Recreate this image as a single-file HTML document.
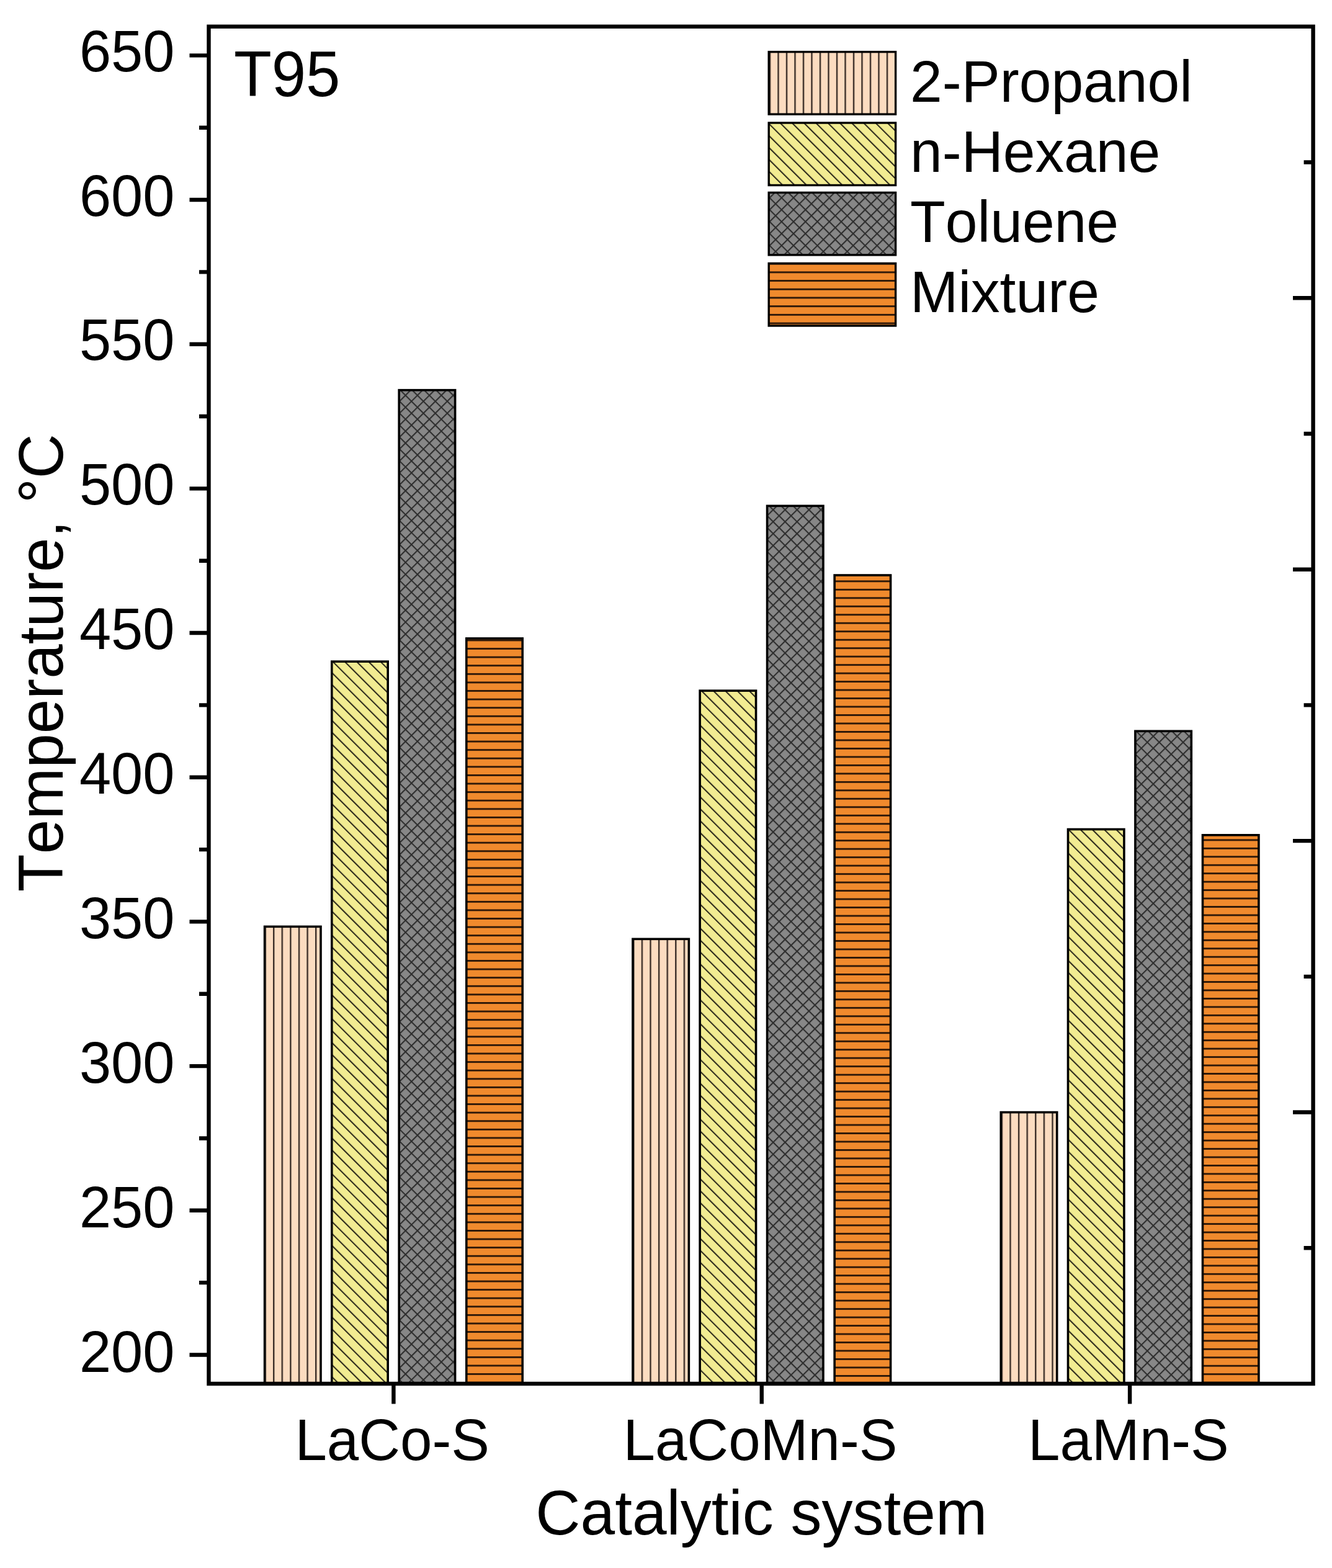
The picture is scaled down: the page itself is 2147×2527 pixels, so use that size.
<!DOCTYPE html>
<html><head><meta charset="utf-8"><title>T95 bar chart</title>
<style>html,body{margin:0;padding:0;background:#fff;overflow:hidden;width:2147px;height:2527px;}svg{display:block;}text{font-family:"Liberation Sans",Arial,sans-serif;fill:#000;font-kerning:none;}</style>
</head><body>
<svg width="2147" height="2527" viewBox="0 0 2147 2527">
<rect x="0" y="0" width="2147" height="2527" fill="#ffffff"/>
<defs>
<pattern id="pProp0" patternUnits="userSpaceOnUse" x="440.00" y="0" width="13.6" height="20"><rect width="13.6" height="20" fill="#fcdcc0"/><rect x="0" y="0" width="2.4" height="20" fill="#3a2d26"/></pattern>
<pattern id="pProp1" patternUnits="userSpaceOnUse" x="1033.70" y="0" width="13.6" height="20"><rect width="13.6" height="20" fill="#fcdcc0"/><rect x="0" y="0" width="2.4" height="20" fill="#3a2d26"/></pattern>
<pattern id="pProp2" patternUnits="userSpaceOnUse" x="1627.30" y="0" width="13.6" height="20"><rect width="13.6" height="20" fill="#fcdcc0"/><rect x="0" y="0" width="2.4" height="20" fill="#3a2d26"/></pattern>
<pattern id="pHex0" patternUnits="userSpaceOnUse" x="5.07" y="0" width="13.6" height="20" patternTransform="rotate(-45)"><rect width="13.6" height="20" fill="#f2ec92"/><rect x="0" y="0" width="2.10" height="20" fill="#2e2b1c"/></pattern>
<pattern id="pHex1" patternUnits="userSpaceOnUse" x="11.22" y="0" width="13.6" height="20" patternTransform="rotate(-45)"><rect width="13.6" height="20" fill="#f2ec92"/><rect x="0" y="0" width="2.10" height="20" fill="#2e2b1c"/></pattern>
<pattern id="pHex2" patternUnits="userSpaceOnUse" x="-0.56" y="0" width="13.6" height="20" patternTransform="rotate(-45)"><rect width="13.6" height="20" fill="#f2ec92"/><rect x="0" y="0" width="2.10" height="20" fill="#2e2b1c"/></pattern>
<pattern id="pTol0" patternUnits="userSpaceOnUse" x="0.46" y="0.92" width="13.6" height="13.6" patternTransform="rotate(45)"><rect width="13.6" height="13.6" fill="#878787"/><rect x="0" y="0" width="2.10" height="13.6" fill="#2e2e2e"/><rect x="0" y="0" width="13.6" height="2.10" fill="#2e2e2e"/></pattern>
<pattern id="pTol1" patternUnits="userSpaceOnUse" x="5.90" y="11.51" width="13.6" height="13.6" patternTransform="rotate(45)"><rect width="13.6" height="13.6" fill="#878787"/><rect x="0" y="0" width="2.10" height="13.6" fill="#2e2e2e"/><rect x="0" y="0" width="13.6" height="2.10" fill="#2e2e2e"/></pattern>
<pattern id="pTol2" patternUnits="userSpaceOnUse" x="3.69" y="-0.39" width="13.6" height="13.6" patternTransform="rotate(45)"><rect width="13.6" height="13.6" fill="#878787"/><rect x="0" y="0" width="2.10" height="13.6" fill="#2e2e2e"/><rect x="0" y="0" width="13.6" height="2.10" fill="#2e2e2e"/></pattern>
<pattern id="pMix0" patternUnits="userSpaceOnUse" x="0" y="1805.30" width="20" height="13.593"><rect width="20" height="13.593" fill="#f08a2d"/><rect x="0" y="0" width="20" height="2.8" fill="#2a1608"/></pattern>
<pattern id="pMix1" patternUnits="userSpaceOnUse" x="0" y="1811.60" width="20" height="13.48"><rect width="20" height="13.48" fill="#f08a2d"/><rect x="0" y="0" width="20" height="2.8" fill="#2a1608"/></pattern>
<pattern id="pMix2" patternUnits="userSpaceOnUse" x="0" y="1823.20" width="20" height="13.45"><rect width="20" height="13.45" fill="#f08a2d"/><rect x="0" y="0" width="20" height="2.8" fill="#2a1608"/></pattern>
<pattern id="lProp" patternUnits="userSpaceOnUse" x="1253.30" y="0" width="13.5" height="20"><rect width="13.5" height="20" fill="#fcdcc0"/><rect x="0" y="0" width="2.4" height="20" fill="#3a2d26"/></pattern>
<pattern id="lHex" patternUnits="userSpaceOnUse" x="0.00" y="0" width="13.6" height="20" patternTransform="rotate(-45)"><rect width="13.6" height="20" fill="#f2ec92"/><rect x="0" y="0" width="2.10" height="20" fill="#2e2b1c"/></pattern>
<pattern id="lTol" patternUnits="userSpaceOnUse" x="0.00" y="0.00" width="13.6" height="13.6" patternTransform="rotate(45)"><rect width="13.6" height="13.6" fill="#878787"/><rect x="0" y="0" width="2.10" height="13.6" fill="#2e2e2e"/><rect x="0" y="0" width="13.6" height="2.10" fill="#2e2e2e"/></pattern>
<pattern id="lMix" patternUnits="userSpaceOnUse" x="0" y="437.40" width="20" height="13.7"><rect width="20" height="13.7" fill="#f08a2d"/><rect x="0" y="0" width="20" height="2.8" fill="#2a1608"/></pattern>
</defs>
<rect x="426.60" y="1493.33" width="90.40" height="736.67" fill="url(#pProp0)" stroke="#000" stroke-width="3.6"/>
<rect x="534.80" y="1066.13" width="90.40" height="1163.87" fill="url(#pHex0)" stroke="#000" stroke-width="3.6"/>
<rect x="643.20" y="628.69" width="90.40" height="1601.31" fill="url(#pTol0)" stroke="#000" stroke-width="3.6"/>
<rect x="751.80" y="1028.90" width="90.40" height="1201.10" fill="url(#pMix0)" stroke="#000" stroke-width="3.6"/>
<rect x="1019.95" y="1513.34" width="90.40" height="716.66" fill="url(#pProp1)" stroke="#000" stroke-width="3.6"/>
<rect x="1128.15" y="1113.13" width="90.40" height="1116.87" fill="url(#pHex1)" stroke="#000" stroke-width="3.6"/>
<rect x="1236.55" y="815.30" width="90.40" height="1414.70" fill="url(#pTol1)" stroke="#000" stroke-width="3.6"/>
<rect x="1345.15" y="926.99" width="90.40" height="1303.01" fill="url(#pMix1)" stroke="#000" stroke-width="3.6"/>
<rect x="1613.30" y="1792.56" width="90.40" height="437.44" fill="url(#pProp2)" stroke="#000" stroke-width="3.6"/>
<rect x="1721.50" y="1336.51" width="90.40" height="893.49" fill="url(#pHex2)" stroke="#000" stroke-width="3.6"/>
<rect x="1829.90" y="1178.28" width="90.40" height="1051.72" fill="url(#pTol2)" stroke="#000" stroke-width="3.6"/>
<rect x="1938.50" y="1345.81" width="90.40" height="884.19" fill="url(#pMix2)" stroke="#000" stroke-width="3.6"/>
<rect x="336.5" y="42.8" width="1780.10" height="2187.20" fill="none" stroke="#000" stroke-width="6.4" stroke-linejoin="miter"/>
<path d="M305.50 2183.46H336.5 M321.00 2067.12H336.5 M305.50 1950.78H336.5 M321.00 1834.44H336.5 M305.50 1718.10H336.5 M321.00 1601.76H336.5 M305.50 1485.42H336.5 M321.00 1369.08H336.5 M305.50 1252.74H336.5 M321.00 1136.40H336.5 M305.50 1020.06H336.5 M321.00 903.72H336.5 M305.50 787.38H336.5 M321.00 671.04H336.5 M305.50 554.70H336.5 M321.00 438.36H336.5 M305.50 322.02H336.5 M321.00 205.68H336.5 M305.50 89.34H336.5 M2101.60 2011.28H2116.6 M2084.00 1792.56H2116.6 M2101.60 1573.84H2116.6 M2084.00 1355.12H2116.6 M2101.60 1136.40H2116.6 M2084.00 917.68H2116.6 M2101.60 698.96H2116.6 M2084.00 480.24H2116.6 M2101.60 261.52H2116.6 M634.40 2230.0V2262.60 M1227.75 2230.0V2262.60 M1821.10 2230.0V2262.60" stroke="#000" stroke-width="6.4" fill="none"/>
<text transform="translate(281.4,2210.5) scale(1,1.035)" font-size="92" text-anchor="end">200</text>
<text transform="translate(281.4,1977.6) scale(1,1.035)" font-size="92" text-anchor="end">250</text>
<text transform="translate(281.4,1744.8) scale(1,1.035)" font-size="92" text-anchor="end">300</text>
<text transform="translate(281.4,1511.9) scale(1,1.035)" font-size="92" text-anchor="end">350</text>
<text transform="translate(281.4,1279.0) scale(1,1.035)" font-size="92" text-anchor="end">400</text>
<text transform="translate(281.4,1046.1) scale(1,1.035)" font-size="92" text-anchor="end">450</text>
<text transform="translate(281.4,813.2) scale(1,1.035)" font-size="92" text-anchor="end">500</text>
<text transform="translate(281.4,580.4) scale(1,1.035)" font-size="92" text-anchor="end">550</text>
<text transform="translate(281.4,347.5) scale(1,1.035)" font-size="92" text-anchor="end">600</text>
<text transform="translate(281.4,114.6) scale(1,1.035)" font-size="92" text-anchor="end">650</text>
<text transform="translate(632.2,2352.8) scale(1,1.02)" font-size="92.5" text-anchor="middle">LaCo-S</text>
<text transform="translate(1225.5,2352.8) scale(1,1.02)" font-size="92.5" text-anchor="middle">LaCoMn-S</text>
<text transform="translate(1818.9,2352.8) scale(1,1.02)" font-size="92.5" text-anchor="middle">LaMn-S</text>
<text transform="translate(1227.3,2473) scale(1,1.02)" font-size="100" text-anchor="middle">Catalytic system</text>
<text transform="translate(101.2,1068.2) rotate(-90) scale(1,1.02)" font-size="99.7" text-anchor="middle">Temperature, °C</text>
<text transform="translate(376.9,154.7) scale(1,1.035)" font-size="99.6">T95</text>
<rect x="1239.2" y="83.6" width="204.4" height="100.5" fill="url(#lProp)" stroke="#000" stroke-width="3.4"/>
<text transform="translate(1467,163.5) scale(1,1.02)" font-size="93">2-Propanol</text>
<rect x="1239.2" y="198.0" width="204.4" height="100.5" fill="url(#lHex)" stroke="#000" stroke-width="3.4"/>
<text transform="translate(1467,276.8) scale(1,1.02)" font-size="93">n-Hexane</text>
<rect x="1239.2" y="310.4" width="204.4" height="100.5" fill="url(#lTol)" stroke="#000" stroke-width="3.4"/>
<text transform="translate(1467,390.1) scale(1,1.02)" font-size="93">Toluene</text>
<rect x="1239.2" y="424.5" width="204.4" height="100.5" fill="url(#lMix)" stroke="#000" stroke-width="3.4"/>
<text transform="translate(1467,503.4) scale(1,1.02)" font-size="93">Mixture</text>
</svg>
</body></html>
